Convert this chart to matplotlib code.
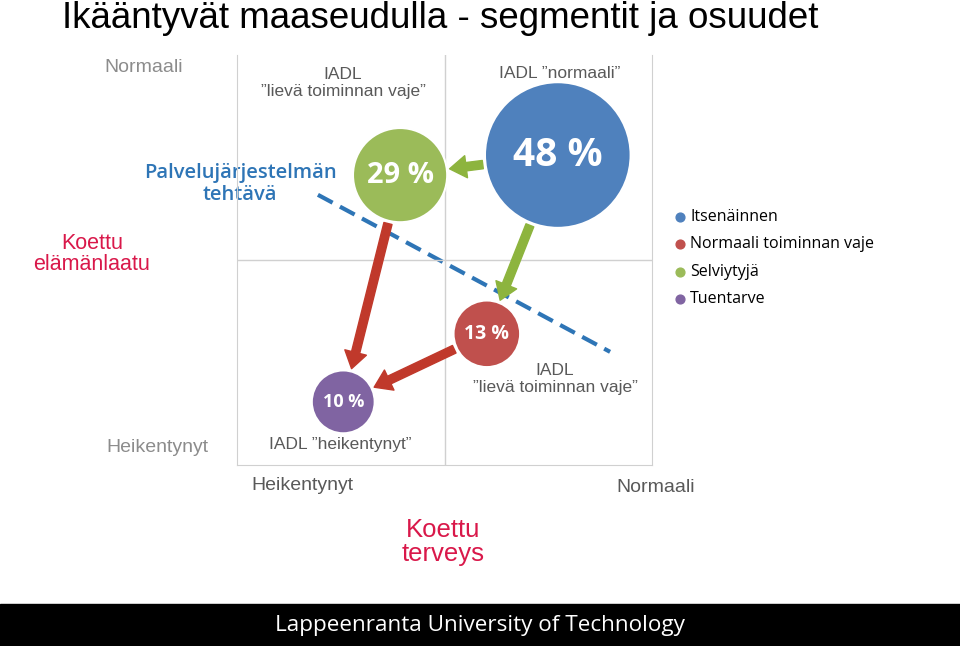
import matplotlib.pyplot as plt

# segments: koettu terveys (x), koettu elämänlaatu (y), share
segments = ['Itsenäinnen', 'Normaali toiminnan vaje', 'Selviytyjä', 'Tuentarve']
health = [77.3, 60.2, 39.3, 25.6]
quality = [75.6, 32.0, 70.7, 15.4]
shares = [48, 13, 29, 10]
colors = ['#4F81BD', '#C0504D', '#9BBB59', '#8064A2']
sizes = [11000, 2300, 4600, 2050]
label_sizes = [28, 14, 21, 13]

# arrows between segments (from, to, colour)
arrows = [(0, 2, '#8DB43E'), (0, 1, '#8DB43E'), (2, 3, '#C0392B'), (1, 3, '#C0392B')]

fig = plt.figure(figsize=(9.6, 6.46), dpi=100)
W, H = 960, 646
fig_ax = fig.add_axes([0, 0, 1, 1])
fig_ax.set_xlim(0, W)
fig_ax.set_ylim(H, 0)
fig_ax.axis('off')

# plot area
ax = fig.add_axes([237 / W, 1 - 465 / H, 415 / W, 410 / H])
ax.set_xlim(0, 100)
ax.set_ylim(0, 100)
ax.set_xticks([])
ax.set_yticks([])
ax.spines['top'].set_visible(False)
for s in ['left', 'right', 'bottom']:
    ax.spines[s].set_color('#d0d0d0')
ax.axvline(50, color='#d0d0d0', lw=1)
ax.axhline(50, color='#d0d0d0', lw=1)
ax.patch.set_alpha(0)

ax.plot([19.5, 89.9], [65.9, 27.6], ls=(0, (4, 2)), color='#2E75B6', lw=3, zorder=1)

for a, b, c in arrows:
    ax.annotate('', xy=(health[b], quality[b]), xytext=(health[a], quality[a]),
                arrowprops=dict(arrowstyle='simple,head_width=1.6,head_length=1.2,tail_width=0.6',
                                color=c, shrinkA=sizes[a] ** 0.5 / 2 + 2, shrinkB=sizes[b] ** 0.5 / 2 + 2),
                zorder=2)

ax.scatter(health, quality, s=sizes, c=colors, edgecolors='white', linewidths=1.5, zorder=3, clip_on=False)
for x, y, p, fs in zip(health, quality, shares, label_sizes):
    ax.text(x, y, f'{p} %', color='white', fontsize=fs,
            fontweight='bold', ha='center', va='center', family='Open Sans', zorder=4)

# legend
for i, (name, c) in enumerate(zip(segments, colors)):
    y = 217 + i * 27.3
    fig_ax.scatter([680], [y], s=40, color=c)
    fig_ax.text(690, y, name, fontsize=11.5, va='center', family='Open Sans')

gray = '#8c8c8c'
dark = '#595959'
red = '#D9184A'
fig_ax.text(62, 18, 'Ikääntyvät maaseudulla - segmentit ja osuudet', fontsize=26.5, va='center',
            family='Liberation Sans')
fig_ax.text(144, 67, 'Normaali', fontsize=14, color=gray, ha='center', va='center', family='Liberation Sans')
fig_ax.text(343, 83, 'IADL\n”lievä toiminnan vaje”', fontsize=12.5, color=dark, ha='center', va='center',
            family='Liberation Sans', linespacing=1.2)
fig_ax.text(560, 73, 'IADL ”normaali”', fontsize=12.5, color=dark, ha='center', va='center', family='Liberation Sans')
fig_ax.text(92, 254, 'Koettu\nelämänlaatu', fontsize=15.5, color=red, ha='center', va='center',
            family='Liberation Sans', linespacing=1.0)
fig_ax.text(240, 184, 'Palvelujärjestelmän\ntehtävä', fontsize=14.5, color='#2E75B6', ha='center', va='center',
            family='Open Sans', fontweight='semibold', linespacing=1.1)
fig_ax.text(555, 379, 'IADL\n”lievä toiminnan vaje”', fontsize=12.5, color=dark, ha='center', va='center',
            family='Liberation Sans', linespacing=1.2)
fig_ax.text(157, 447, 'Heikentynyt', fontsize=14, color=gray, ha='center', va='center', family='Liberation Sans')
fig_ax.text(340, 444, 'IADL ”heikentynyt”', fontsize=12.5, color=dark, ha='center', va='center', family='Liberation Sans')
fig_ax.text(302, 486, 'Heikentynyt', fontsize=14, color=dark, ha='center', va='center', family='Liberation Sans')
fig_ax.text(656, 488, 'Normaali', fontsize=14, color=dark, ha='center', va='center', family='Liberation Sans')
fig_ax.text(443, 542, 'Koettu\nterveys', fontsize=18.5, color=red, ha='center', va='center',
            family='Liberation Sans', linespacing=1.0)

# footer
fig_ax.add_patch(plt.Rectangle((0, 604), W, 42, color='black'))
fig_ax.text(480, 626, 'Lappeenranta University of Technology', fontsize=16.2, color='white',
            ha='center', va='center', family='Open Sans')

fig.savefig('out.png', dpi=100)
